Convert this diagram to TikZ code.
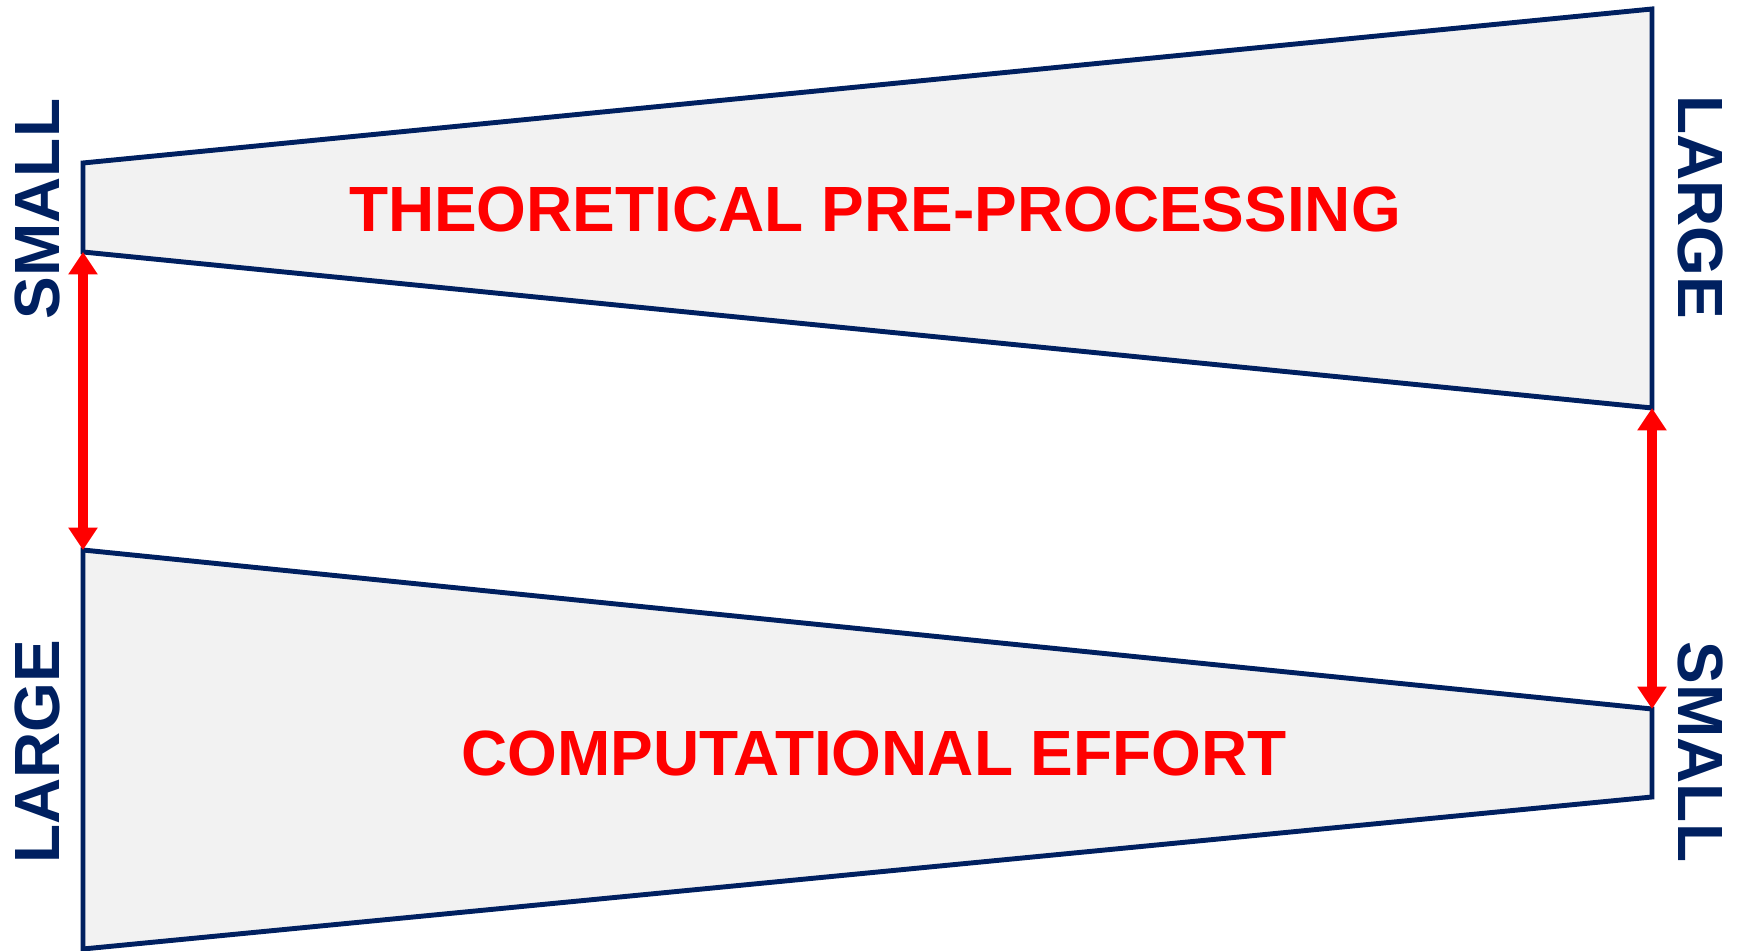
\documentclass[tikz,border=0pt]{standalone}
\usepackage{fontspec}
\setmainfont{Liberation Sans}
\usepackage{xcolor}
\usetikzlibrary{arrows.meta, positioning, calc}
\definecolor{navyline}{HTML}{002060}
\definecolor{bandfill}{HTML}{F2F2F2}
\definecolor{effortred}{HTML}{FF0000}
\tikzset{
  band/.style={draw=navyline, fill=bandfill, line width=7pt, line join=miter},
  span/.style={effortred, line width=15pt, {Triangle[length=32pt,width=40pt]}-{Triangle[length=32pt,width=40pt]}},
  sizelabel/.style={text=navyline, font=\bfseries\fontsize{91}{91}\selectfont, inner sep=0pt},
  bandlabel/.style={text=effortred, font=\bfseries\fontsize{91}{91}\selectfont, inner sep=0pt}
}

\begin{document}
\begin{tikzpicture}[x=0.05cm, y=0.05cm]
    \useasboundingbox (0,0) rectangle (1738,950);

    % Corners of the two bands
    \coordinate (tlt) at (83,787);
    \coordinate (tlb) at (83,698);
    \coordinate (trt) at (1652,941);
    \coordinate (trb) at (1652,542);
    \coordinate (blt) at (83,400);
    \coordinate (blb) at (83,1);
    \coordinate (brt) at (1652,241);
    \coordinate (brb) at (1652,153);

    % Top band: theoretical pre-processing
    \draw[band] (tlt) -- (trt) -- (trb) -- (tlb) -- cycle;
    \node[bandlabel] (theory) at (875,741) {THEORETICAL PRE-PROCESSING};

    % Bottom band: computational effort
    \draw[band] (blt) -- (brt) -- (brb) -- (blb) -- cycle;
    \node[bandlabel] (effort) at (874,197) {COMPUTATIONAL EFFORT};

    % Gaps between the bands
    \draw[span] (tlb) -- (blt);
    \draw[span] (trb) -- (brt);

    % Side labels
    \node[sizelabel, rotate=90] (leftsmall) at (37,741) {SMALL};
    \node[sizelabel, rotate=90] (leftlarge) at (37,198) {LARGE};
    \node[sizelabel, rotate=-90] (rightlarge) at (1700,743) {LARGE};
    \node[sizelabel, rotate=-90] (rightsmall) at (1700,198) {SMALL};
\end{tikzpicture}
\end{document}
